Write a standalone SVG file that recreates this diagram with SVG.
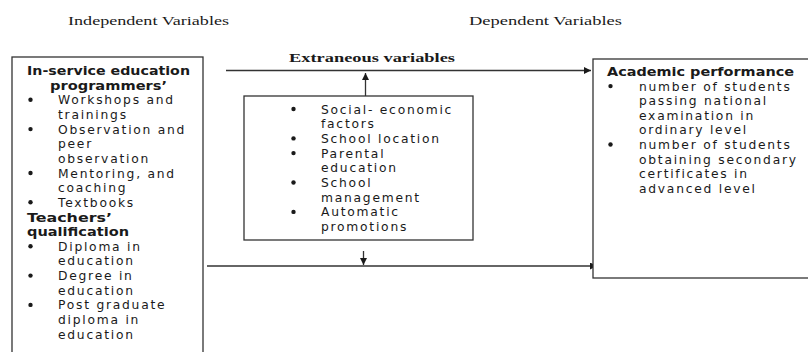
<svg xmlns="http://www.w3.org/2000/svg" width="808" height="352" viewBox="0 0 808 352">
<style>
.box{fill:#fff;stroke:#333;stroke-width:1.3}
.ln{fill:none;stroke:#333;stroke-width:1.3}
.hd{font-family:"Liberation Serif",serif;font-size:13.5px;fill:#1a1a1a}
.ex{font-family:"Liberation Serif",serif;font-size:13.5px;font-weight:bold;fill:#1a1a1a}
.t{font-family:"DejaVu Sans","Liberation Sans",sans-serif;font-size:12.3px;letter-spacing:1.75px;fill:#1a1a1a}
.b{font-family:"DejaVu Sans","Liberation Sans",sans-serif;font-size:12.3px;font-weight:bold;fill:#1a1a1a}
.dot{fill:#1a1a1a}
</style>
<defs>
<marker id="ah" viewBox="0 0 10 10" refX="10" refY="5" markerWidth="8" markerHeight="7" markerUnits="userSpaceOnUse" orient="auto">
<path d="M0,0 L10,5 L0,10 z" fill="#1a1a1a"/>
</marker>
</defs>
<rect width="808" height="352" fill="#fff"/>
<text class="hd" x="68" y="24.5" textLength="161" lengthAdjust="spacingAndGlyphs">Independent Variables</text>
<text class="hd" x="469" y="24.5" textLength="153" lengthAdjust="spacingAndGlyphs">Dependent Variables</text>
<text class="ex" x="289" y="62.3" textLength="166" lengthAdjust="spacingAndGlyphs">Extraneous variables</text>
<g id="connectors">
<line class="ln" x1="226" y1="70.5" x2="591" y2="70.5" marker-end="url(#ah)"/>
<line class="ln" x1="365.5" y1="96" x2="365.5" y2="73" marker-end="url(#ah)"/>
<line class="ln" x1="207" y1="266" x2="597" y2="266" marker-end="url(#ah)"/>
<line class="ln" x1="363.5" y1="251" x2="363.5" y2="265" marker-end="url(#ah)"/>
</g>
<g id="independent">
<rect class="box" x="12" y="57" width="191" height="320"/>
<text class="b" x="27" y="75" textLength="163" lengthAdjust="spacingAndGlyphs">In-service education</text>
<text class="b" x="50" y="89.6" textLength="117" lengthAdjust="spacingAndGlyphs">programmers’</text>
<circle class="dot" cx="30.5" cy="99.8" r="2.2"/>
<text class="t" x="58" y="104.3">Workshops  and</text>
<text class="t" x="58" y="118.9">trainings</text>
<circle class="dot" cx="30.5" cy="129.1" r="2.2"/>
<text class="t" x="58" y="133.6">Observation and</text>
<text class="t" x="58" y="148.2">peer</text>
<text class="t" x="58" y="162.9">observation</text>
<circle class="dot" cx="30.5" cy="173" r="2.2"/>
<text class="t" x="58" y="177.5">Mentoring, and</text>
<text class="t" x="58" y="192.2">coaching</text>
<circle class="dot" cx="30.5" cy="202.3" r="2.2"/>
<text class="t" x="58" y="206.8">Textbooks</text>
<text class="b" x="27" y="221.5" textLength="85" lengthAdjust="spacingAndGlyphs">Teachers’</text>
<text class="b" x="27" y="236.1" textLength="102" lengthAdjust="spacingAndGlyphs">qualification</text>
<circle class="dot" cx="30.5" cy="246.3" r="2.2"/>
<text class="t" x="58" y="250.8">Diploma in</text>
<text class="t" x="58" y="265.4">education</text>
<circle class="dot" cx="30.5" cy="275.6" r="2.2"/>
<text class="t" x="58" y="280.1">Degree in</text>
<text class="t" x="58" y="294.7">education</text>
<circle class="dot" cx="30.5" cy="304.9" r="2.2"/>
<text class="t" x="58" y="309.4">Post graduate</text>
<text class="t" x="58" y="324">diploma in</text>
<text class="t" x="58" y="338.7">education</text>
</g>
<g id="extraneous">
<rect class="box" x="244" y="96" width="229" height="144"/>
<circle class="dot" cx="293.5" cy="109" r="2.2"/>
<text class="t" x="321" y="113.5">Social- economic</text>
<text class="t" x="321" y="128.2">factors</text>
<circle class="dot" cx="293.5" cy="138.4" r="2.2"/>
<text class="t" x="321" y="142.9">School location</text>
<circle class="dot" cx="293.5" cy="153.1" r="2.2"/>
<text class="t" x="321" y="157.6">Parental</text>
<text class="t" x="321" y="172.3">education</text>
<circle class="dot" cx="293.5" cy="182.5" r="2.2"/>
<text class="t" x="321" y="187">School</text>
<text class="t" x="321" y="201.7">management</text>
<circle class="dot" cx="293.5" cy="211.9" r="2.2"/>
<text class="t" x="321" y="216.4">Automatic</text>
<text class="t" x="321" y="231.1">promotions</text>
</g>
<g id="dependent">
<rect class="box" x="593" y="59" width="230" height="219"/>
<text class="b" x="607" y="76" textLength="187" lengthAdjust="spacingAndGlyphs">Academic performance</text>
<circle class="dot" cx="610.5" cy="86.1" r="2.2"/>
<text class="t" x="639" y="90.6">number of students</text>
<text class="t" x="639" y="105.2">passing national</text>
<text class="t" x="639" y="119.8">examination in</text>
<text class="t" x="639" y="134.4">ordinary level</text>
<circle class="dot" cx="610.5" cy="144.5" r="2.2"/>
<text class="t" x="639" y="149">number of students</text>
<text class="t" x="639" y="163.6">obtaining secondary</text>
<text class="t" x="639" y="178.2">certificates in</text>
<text class="t" x="639" y="192.8">advanced level</text>
</g>
</svg>
